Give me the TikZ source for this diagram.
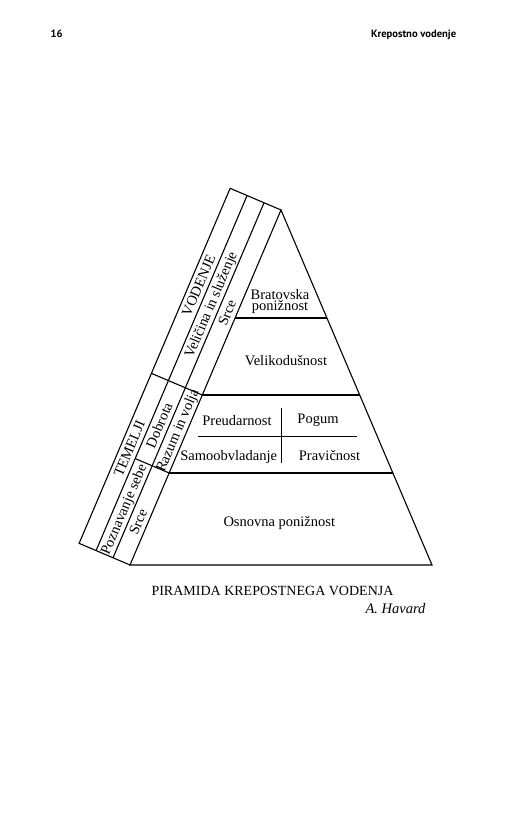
\documentclass[tikz,border=0pt]{standalone}
\usepackage{fontspec}
\setmainfont{Liberation Serif}
\newfontfamily\headfont{PT Sans}
\usetikzlibrary{calc}
\begin{document}
\begin{tikzpicture}[x=1pt,y=1pt, line width=1.1pt, line join=miter,
  lbl/.style={inner sep=0pt, anchor=base, font=\fontsize{14.5}{14.5}\selectfont},
  slab/.style={lbl, transform shape},
  hdr/.style={inner sep=0pt, font=\headfont\bfseries\fontsize{10.6}{10.6}\selectfont}]
\useasboundingbox (0,0) rectangle (530,833);
% header
\node[hdr, anchor=base west] (pg) at (50,795.7) {16};
\node[hdr, anchor=base east] (ttl) at (456.7,795.7) {Krepostno vodenje};
% pyramid
\coordinate (A) at (281,623);
\coordinate (BL) at (130,268);
\coordinate (BR) at (432,268);
\draw (A) -- (BL) -- (BR) -- cycle;
\foreach \n/\Y in {la/515, lb/438, lc/360} {
  \coordinate (\n-L) at (intersection of A--BL and 0,\Y--1,\Y);
  \coordinate (\n-R) at (intersection of A--BR and 0,\Y--1,\Y);
  \draw (\n-L) -- (\n-R);
}
% inner cross
\coordinate (cv1) at (281.7,425);
\coordinate (cv2) at (281.7,370);
\coordinate (ch1) at (198,396.3);
\coordinate (ch2) at (356.7,396.3);
\draw (cv1) -- (cv2);
\draw (ch1) -- (ch2);
% pyramid texts
\node[lbl] (t1a) at (280,533) {Bratovska};
\node[lbl] (t1b) at (280,522.5) {ponižnost};
\node[lbl] (t2) at (286,467) {Velikodušnost};
\node[lbl] (t3a) at (237,407.3) {Preudarnost};
\node[lbl] (t3b) at (318,409.7) {Pogum};
\node[lbl] (t3c) at (228.7,372) {Samoobvladanje};
\node[lbl] (t3d) at (329.5,372) {Pravičnost};
\node[lbl] (t4) at (279.3,306.3) {Osnovna ponižnost};
% slanted bands
\begin{scope}[shift={(BL)}, rotate=66.957]
  \def\w{18.43}
  \def\L{385.8}
  \def\ua{184.75}
  \def\ub{99.98}
  \draw (0,0) -- (0,3*\w) -- (\L,3*\w) -- (\L,0);
  \draw (0,\w) -- (\L,\w);
  \draw (0,2*\w) -- (\L,2*\w);
  \draw (\ua,0) -- (\ua,3*\w);
  \draw (\ub,0) -- (\ub,2*\w);
  \node[slab] (s1) at (284,2*\w+4.6) {VODENJE};
  \node[slab] (s2) at (271,\w+4.6) {Veličina in služenje};
  \node[slab] (s3) at (270,4.6) {Srce};
  \node[slab] (s4) at (107,2*\w+4.6) {TEMELJI};
  \node[slab] (s5) at (140,\w+4.6) {Dobrota};
  \node[slab] (s6) at (142.4,4.6) {Razum in volja};
  \node[slab] (s7) at (48.6,\w+4.6) {Poznavanje sebe};
  \node[slab] (s8) at (42.7,4.6) {Srce};
\end{scope}
% caption
\node[lbl, font=\fontsize{14}{14}\selectfont] (cap) at (272.5,237) {PIRAMIDA KREPOSTNEGA VODENJA};
\node[lbl, anchor=base east, font=\itshape\fontsize{14.5}{14.5}\selectfont] (auth) at (426,219.7) {A. Havard};
\end{tikzpicture}
\end{document}
